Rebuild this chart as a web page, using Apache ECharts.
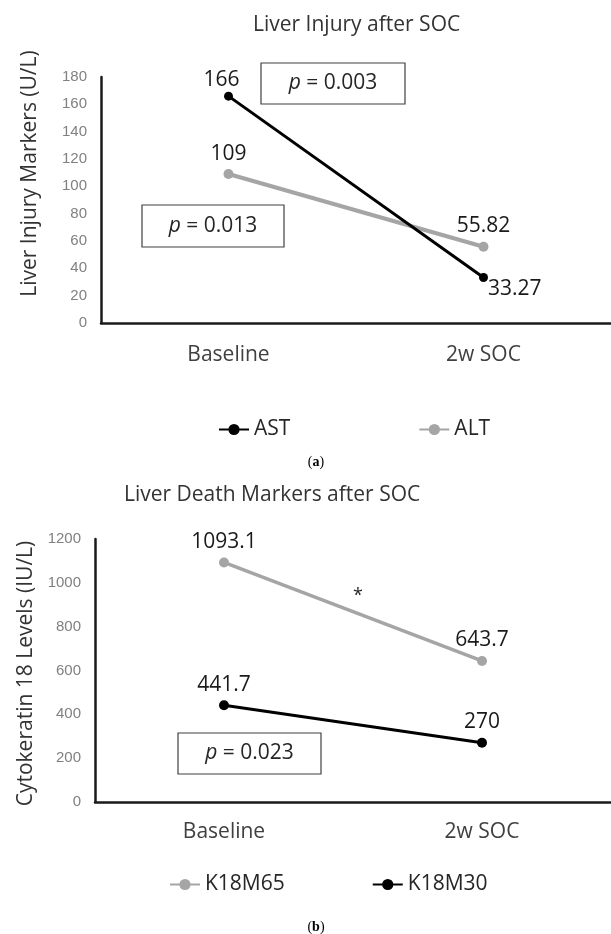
<!DOCTYPE html>
<html>
<head>
<meta charset="utf-8">
<script src="https://cdn.jsdelivr.net/npm/echarts@6/dist/echarts.min.js"></script>
<style>
html,body{margin:0;padding:0;background:#fff;}
#chart{width:611px;height:934px;}
</style>
</head>
<body>
<div id="chart"></div>
<script>
// ---- data ----
const categories = ['Baseline', '2w SOC'];
const astValues = [166, 33.27];
const altValues = [109, 55.82];
const k18m65Values = [1093.1, 643.7];
const k18m30Values = [441.7, 270];
const injuryAxis = { min: 0, max: 180, interval: 20 };
const deathAxis = { min: 0, max: 1200, interval: 200 };
const pValues = ['0.003', '0.013', '0.023'];

const FONT = '"Open Sans", sans-serif';
const BLACK = '#000000';
const GRAY = '#a5a5a5';

const chart = echarts.init(document.getElementById('chart'), null, { renderer: 'canvas' });

function yAxisCfg(gridIndex, range, name, padding, nameGap) {
  return {
    gridIndex, type: 'value', min: range.min, max: range.max, interval: range.interval,
    name, nameLocation: 'middle', nameRotate: 90, nameGap,
    nameTextStyle: { fontFamily: FONT, fontSize: 21, color: '#333', padding },
    axisLine: { show: true, lineStyle: { color: '#1a1a1a', width: 2.5 } },
    axisTick: { show: false }, splitLine: { show: false },
    axisLabel: { fontFamily: '"Liberation Sans", Arial, sans-serif', fontSize: 15, color: '#808080', margin: 14,
      formatter: (v) => String(v) }
  };
}
function xAxisCfg(gridIndex, margin) {
  return {
    gridIndex, type: 'category', data: categories, boundaryGap: true,
    axisLine: { show: true, lineStyle: { color: '#1a1a1a', width: 2.5 } },
    axisTick: { show: false }, splitLine: { show: false },
    axisLabel: { fontFamily: FONT, fontSize: 21, color: '#404040', margin }
  };
}
const labelBase = { show: true, position: 'top', fontFamily: FONT, fontSize: 21, color: '#1a1a1a' };

function pText(p) {
  return '{i|p} = ' + p;
}
function pBox(x, y, w, h, p) {
  return [
    { type: 'rect', shape: { x, y, width: w, height: h },
      style: { fill: '#fff', stroke: '#404040', lineWidth: 1.2 }, z: 10 },
    { type: 'text', x: x + w / 2, y: y + h / 2, z: 11,
      style: { text: pText(p), align: 'center', verticalAlign: 'middle',
        font: '21px ' + FONT, fill: '#262626',
        rich: { i: { fontStyle: 'italic', fontFamily: FONT, fontSize: 21, fill: '#262626' } } } }
  ];
}

const option = {
  backgroundColor: '#fff',
  animation: false,
  title: [
    { text: 'Liver Injury after SOC', left: 248, top: 10,
      textStyle: { fontFamily: FONT, fontSize: 21, fontWeight: 'normal', color: '#333' } },
    { text: 'Liver Death Markers after SOC', left: 119, top: 480,
      textStyle: { fontFamily: FONT, fontSize: 21, fontWeight: 'normal', color: '#333' } }
  ],
  grid: [
    { left: 101, right: -12, top: 77, height: 246 },
    { left: 95, right: -10, top: 539, height: 263 }
  ],
  xAxis: [xAxisCfg(0, 22), xAxisCfg(1, 20)],
  yAxis: [
    yAxisCfg(0, injuryAxis, 'Liver Injury Markers (U/L)', [0, 0, 0, 53], 60),
    yAxisCfg(1, deathAxis, 'Cytokeratin 18 Levels (IU/L)', [0, 6, 0, 0], 56)
  ],
  legend: [
    { data: ['AST', 'ALT'], left: 213, top: 414, itemWidth: 30, itemHeight: 14, itemGap: 128,
      textStyle: { fontFamily: FONT, fontSize: 21, color: '#262626' } },
    { data: ['K18M65', 'K18M30'], left: 164, top: 869, itemWidth: 30, itemHeight: 14, itemGap: 87,
      textStyle: { fontFamily: FONT, fontSize: 21, color: '#262626' } }
  ],
  series: [
    { name: 'AST', type: 'line', xAxisIndex: 0, yAxisIndex: 0, z: 4,
      data: [
        { value: astValues[0], label: { offset: [-7, 4] } },
        { value: astValues[1], label: { position: 'right', distance: 0, offset: [0, 11] } }
      ],
      symbol: 'circle', symbolSize: 9,
      lineStyle: { color: BLACK, width: 3 }, itemStyle: { color: BLACK },
      label: labelBase },
    { name: 'ALT', type: 'line', xAxisIndex: 0, yAxisIndex: 0, z: 3,
      data: altValues, symbol: 'circle', symbolSize: 10,
      lineStyle: { color: GRAY, width: 4 }, itemStyle: { color: GRAY },
      label: labelBase },
    { name: 'K18M65', type: 'line', xAxisIndex: 1, yAxisIndex: 1,
      data: k18m65Values, symbol: 'circle', symbolSize: 10,
      lineStyle: { color: GRAY, width: 3.5 }, itemStyle: { color: GRAY },
      label: labelBase },
    { name: 'K18M30', type: 'line', xAxisIndex: 1, yAxisIndex: 1,
      data: k18m30Values, symbol: 'circle', symbolSize: 10,
      lineStyle: { color: BLACK, width: 3 }, itemStyle: { color: BLACK },
      label: labelBase }
  ],
  graphic: [
    ...pBox(261, 63, 144, 41, pValues[0]),
    ...pBox(142, 205, 142, 42, pValues[1]),
    ...pBox(178, 733, 143, 41, pValues[2]),
    { type: 'text', x: 358, y: 596, style: { text: '*', align: 'center', verticalAlign: 'middle',
      font: '18px ' + FONT, fill: '#262626' } },
    { type: 'text', x: 316, y: 462, style: { text: '({b|a})', align: 'center', verticalAlign: 'middle',
      font: '14px "Liberation Serif", serif', fill: '#000',
      rich: { b: { fontWeight: 'bold', fontFamily: '"Liberation Serif", serif', fontSize: 14, fill: '#000' } } } },
    { type: 'text', x: 316, y: 927, style: { text: '({b|b})', align: 'center', verticalAlign: 'middle',
      font: '14px "Liberation Serif", serif', fill: '#000',
      rich: { b: { fontWeight: 'bold', fontFamily: '"Liberation Serif", serif', fontSize: 14, fill: '#000' } } } }
  ]
};
chart.setOption(option);
</script>
</body>
</html>
